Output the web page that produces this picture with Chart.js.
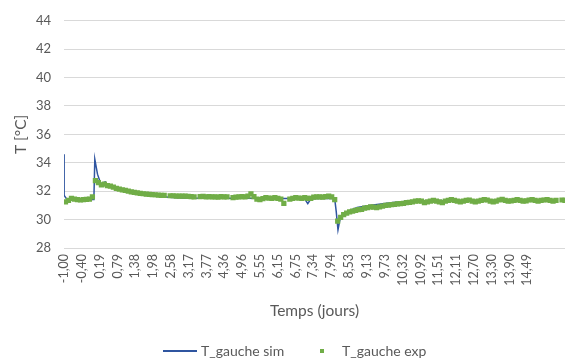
<!DOCTYPE html>
<html>
<head>
<meta charset="utf-8">
<script src="https://cdn.jsdelivr.net/npm/chart.js@4.4.0/dist/chart.umd.min.js"></script>
<style>
  html, body { margin: 0; padding: 0; background: #fff; }
</style>
</head>
<body>
<canvas id="tempChart" width="569" height="362"></canvas>
<script>
// time axis labels (days)
const xTickDays = [-1.00, -0.40, 0.19, 0.79, 1.38, 1.98, 2.58, 3.17, 3.77, 4.36, 4.96, 5.55, 6.15,
    6.75, 7.34, 7.94, 8.53, 9.13, 9.73, 10.32, 10.92, 11.51, 12.11, 12.70, 13.30, 13.90, 14.49];

// simulation (T_gauche sim)
const simDays = [-1.00, -0.995, -0.9, -0.5, -0.02, 0.0, 0.03, 0.12, 0.2, 0.26, 0.32, 0.38, 0.46,
    0.6, 0.8, 1.0, 1.3, 1.6, 2.0, 2.5, 3.0, 4.0, 5.0, 6.0, 6.5, 7.05, 7.15, 7.25, 7.6, 8.05,
    8.1, 8.16, 8.22, 8.32, 8.5, 8.8, 9.2, 9.6, 10.0, 10.5, 11.0, 12.0, 13.0, 14.0, 15.0, 15.5];
const simTemps = [34.6, 31.7, 31.42, 31.4, 31.42, 31.5, 34.25, 33.2, 32.7, 32.45, 32.6, 32.65, 32.4,
    32.3, 32.15, 32.05, 31.9, 31.78, 31.68, 31.58, 31.52, 31.5, 31.5, 31.48, 31.48, 31.45, 31.12, 31.45, 31.5, 31.48,
    30.6, 29.28, 29.95, 30.3, 30.6, 30.85, 31.0, 31.1, 31.2, 31.3, 31.33, 31.35, 31.35, 31.38, 31.4, 31.4];

// measurements (T_gauche exp), one every 0.1 day from -0.95
const expStart = -0.95;
const expStep = 0.1;
const expTemps = [
    31.25, 31.35, 31.5, 31.45, 31.4, 31.38, 31.4, 31.42, 31.45, 31.6,
    32.75, 32.6, 32.45, 32.5, 32.4, 32.35, 32.28, 32.2, 32.15, 32.1,
    32.05, 32.0, 31.96, 31.92, 31.88, 31.85, 31.82, 31.8, 31.78, 31.76,
    31.75, 31.72, 31.7, 31.7, null, 31.68, 31.68, 31.66, 31.66, 31.65,
    31.65, 31.64, 31.62, 31.6, null, 31.62, 31.63, 31.6, 31.62, 31.6,
    31.6, 31.58, 31.62, 31.6, 31.6, null, 31.55, 31.58, 31.6, 31.62,
    31.6, 31.65, 31.82, 31.62, 31.45, 31.4, 31.48, 31.55, 31.52, 31.5,
    31.55, 31.5, 31.45, 31.15, null, 31.45, 31.5, 31.55, 31.52, 31.5,
    31.55, 31.5, 31.5, 31.58, 31.6, 31.6, 31.58, 31.62, 31.65, 31.6,
    31.4, 29.9, 30.15, 30.35, 30.45, 30.55, 30.6, 30.65, 30.7, 30.72,
    30.8, 30.85, 30.9, 30.88, 30.85, 30.9, 30.95, 31.0, 31.02, 31.05,
    31.08, 31.1, 31.12, 31.15, 31.2, 31.22, 31.25, 31.3, 31.32, 31.3,
    31.2, 31.25, 31.3, 31.35, 31.3, 31.25, 31.2, 31.3, 31.35, 31.4,
    31.35, 31.3, 31.25, 31.3, 31.35, 31.38, 31.3, 31.25, 31.3, 31.35,
    31.4, 31.38, 31.3, 31.25, 31.3, 31.38, 31.42, 31.35, 31.3, 31.32,
    31.35, 31.4, 31.35, 31.3, 31.32, 31.38, 31.4, 31.35, 31.3, 31.35,
    31.38, 31.4, 31.35, 31.3, 31.35, null, 31.38, 31.36
];

const simColor = "#2f55a0";
const expColor = "#70ad47";
const textColor = "#595959";
const fontFamily = "Lato, 'Noto Sans', sans-serif";

const simPoints = simDays.map((d, i) => ({ x: d, y: simTemps[i] }));
const expPoints = expTemps.map((t, i) => ({ x: expStart + i * expStep, y: t }));

const frDay = (v) => v.toFixed(2).replace(".", ",");

// legend drawn under the axis title: line sample for sim, small square for exp
const bottomLegend = {
    id: "bottomLegend",
    afterDraw(chart) {
        const ctx = chart.ctx;
        const y = 351;
        ctx.save();
        ctx.font = "14px " + fontFamily;
        ctx.fillStyle = textColor;
        ctx.textBaseline = "middle";

        ctx.strokeStyle = simColor;
        ctx.lineWidth = 2;
        ctx.beginPath();
        ctx.moveTo(163, y);
        ctx.lineTo(197, y);
        ctx.stroke();
        ctx.fillText(chart.data.datasets[0].label, 201, y);

        ctx.fillStyle = expColor;
        ctx.fillRect(320, y - 2, 4, 4);
        ctx.fillStyle = textColor;
        ctx.fillText(chart.data.datasets[1].label, 342, y);
        ctx.restore();
    },
};

new Chart(document.getElementById("tempChart"), {
    type: "line",
    data: {
        datasets: [
            {
                label: "T_gauche sim",
                data: simPoints,
                borderColor: simColor,
                borderWidth: 1.5,
                pointRadius: 0,
                tension: 0,
                order: 1,
            },
            {
                label: "T_gauche exp",
                data: expPoints,
                showLine: false,
                backgroundColor: expColor,
                borderColor: expColor,
                pointStyle: "rect",
                pointRadius: 3.7,
                pointBorderWidth: 0,
                order: 0,
            },
        ],
    },
    options: {
        responsive: false,
        animation: false,
        layout: { padding: { top: 18, right: 1, bottom: 42, left: 0 } },
        plugins: {
            legend: { display: false },
            tooltip: { enabled: false },
        },
        scales: {
            x: {
                type: "linear",
                min: -1,
                max: 15.75,
                afterBuildTicks: (axis) => {
                    axis.ticks = xTickDays.map((v) => ({ value: v }));
                },
                afterFit: (scale) => {
                    scale.height = 72;
                },
                grid: { display: false, drawTicks: false },
                border: { display: false },
                ticks: {
                    autoSkip: false,
                    minRotation: 90,
                    maxRotation: 90,
                    padding: 6,
                    color: textColor,
                    font: { family: fontFamily, size: 12.5 },
                    callback: (v) => frDay(v),
                },
                title: {
                    display: true,
                    text: "Temps (jours)",
                    color: textColor,
                    font: { family: fontFamily, size: 15.5 },
                    padding: { top: 0, bottom: 0 },
                },
            },
            y: {
                min: 28,
                max: 44,
                afterFit: (scale) => {
                    scale.width = 64;
                },
                grid: { color: "#d9d9d9", drawTicks: false },
                border: { display: false },
                ticks: {
                    stepSize: 2,
                    padding: 13,
                    color: textColor,
                    font: { family: fontFamily, size: 13 },
                },
                title: {
                    display: true,
                    text: "T [°C]",
                    color: textColor,
                    font: { family: fontFamily, size: 15.5 },
                    padding: { top: 12, bottom: 0 },
                },
            },
        },
    },
    plugins: [bottomLegend],
});
</script>
</body>
</html>
